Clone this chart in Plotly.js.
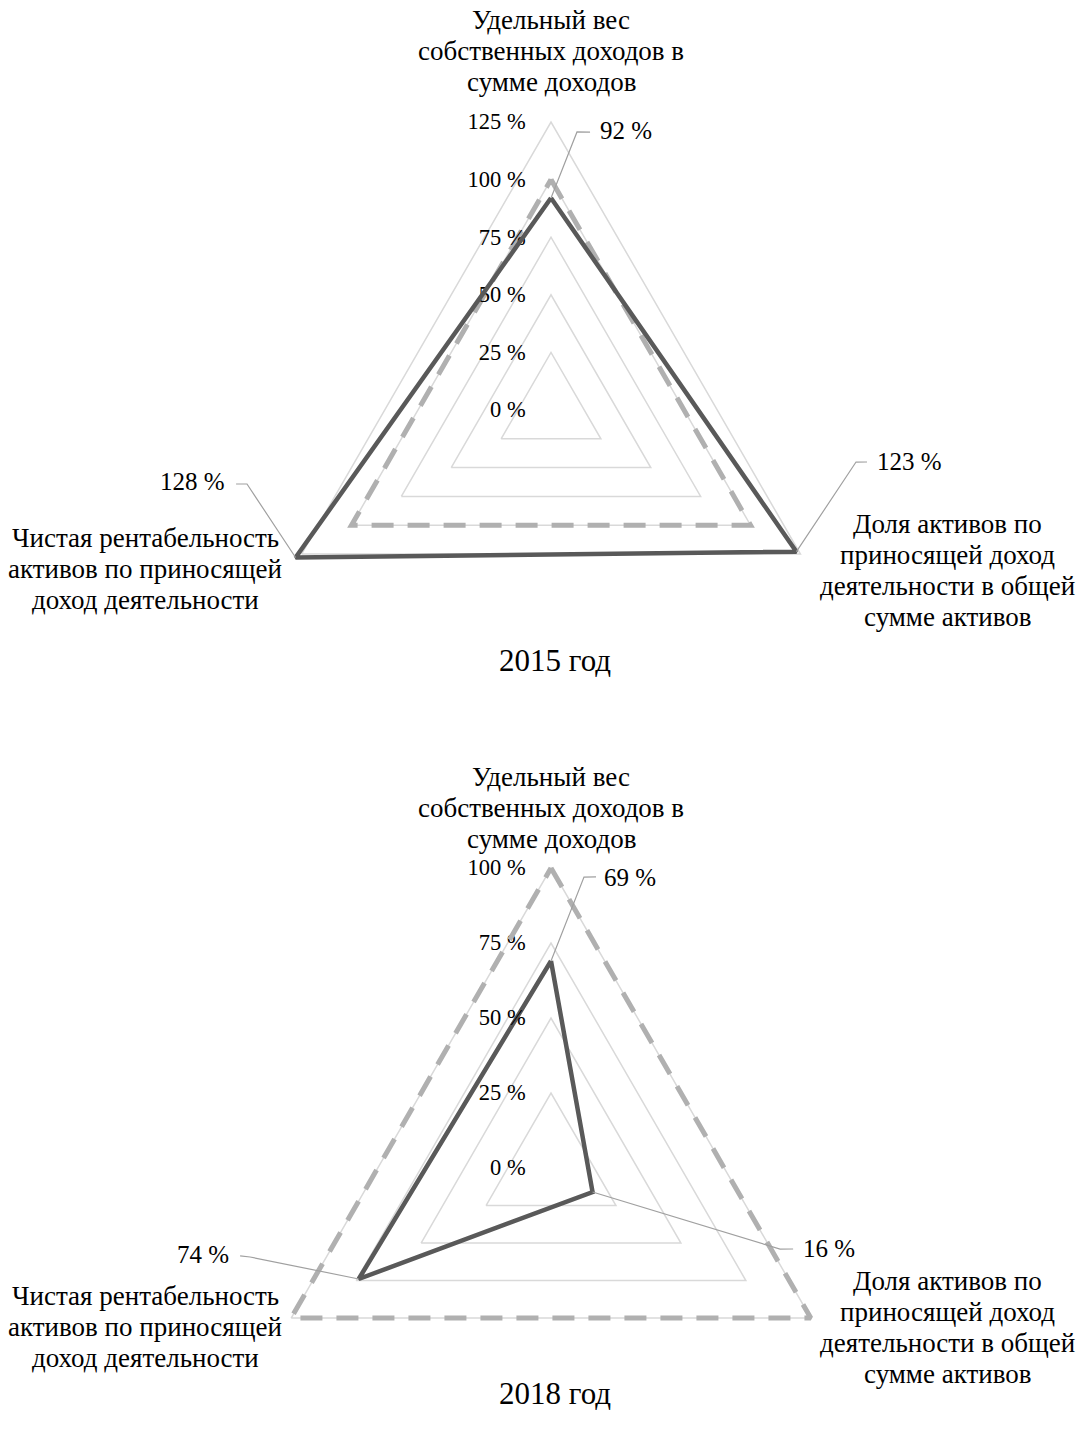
<!DOCTYPE html>
<html>
<head>
<meta charset="utf-8">
<script src="https://cdn.plot.ly/plotly-3.0.1.min.js"></script>
<style>
  html, body { margin: 0; padding: 0; background: #fff; overflow: hidden; }
  #wrap { width: 1077px; height: 1431px; overflow: hidden; position: relative; }
</style>
</head>
<body>
<div id="wrap"><div id="chart"></div></div>
<script>
// ---------- DATA ----------
const categories = [
  'Удельный вес собственных доходов в сумме доходов',
  'Доля активов по приносящей доход деятельности в общей сумме активов',
  'Чистая рентабельность активов по приносящей доход деятельности'
];
const categoryLines = [
  ['Удельный вес', 'собственных доходов в', 'сумме доходов'],
  ['Доля активов по', 'приносящей доход', 'деятельности в общей', 'сумме активов'],
  ['Чистая рентабельность', 'активов по приносящей', 'доход деятельности']
];
const values2015 = [92, 123, 128];
const norm2015 = [100, 100, 100];
const values2018 = [69, 16, 74];
const norm2018 = [100, 100, 100];
const titles = ['2015 год', '2018 год'];
const radialTicks2015 = [0, 25, 50, 75, 100, 125];
const radialTicks2018 = [0, 25, 50, 75, 100];

// ---------- STYLE / POSITIONS ----------
const FONT = 'Liberation Serif, Times New Roman, serif';
const H = 1540, W = 1077;
const catAngles = [90, -30, 210];  // category directions on the overlay subplot (degrees)
// leader-line geometry in polar coords [r, angle] on the overlay subplot
const leader2015 = [
  {elbow: [121.2, 84.66], end: [121.8, 82.0], text: [122.1, 79.97], pos: 'middle right'},
  {elbow: [134.3, -9.68], end: [139.0, -9.34], text: [143.4, -9.41], pos: 'middle right'},
  {elbow: [135.8, 193.68], end: [140.4, 193.22], text: [145.3, 192.75], pos: 'middle left'}
];
const leader2018 = [
  {elbow: [97.6, 83.53], end: [98.2, 81.21], text: [97.6, 79.57], pos: 'middle right'},
  {elbow: [81.0, -19.48], end: [85.1, -18.50], text: [88.4, -18.23], pos: 'middle right'},
  {elbow: [104.6, 196.47], end: [107.7, 195.80], text: [111.3, 195.38], pos: 'middle left'}
];
const NORM_LINE = {color: '#b0b0b0', width: 5, dash: '22px,14px'};
const VAL_LINE = {color: '#595959', width: 4.5};

function closed(arr) { return arr.concat([arr[0]]); }

// series that stay inside the outer grid go on the category polar; the rest go on the
// overlay polar (same centre and pixel scale, larger radial room, so nothing is clipped)
function seriesTraces(vals, norm, polarMain, polarOver, leaders, valsOnOverlay) {
  const tr = [];
  const onMain = (r, line) => ({type: 'scatterpolar', subplot: polarMain, mode: 'lines',
    r: closed(r), theta: closed(categories), line: line, hoverinfo: 'skip'});
  const onOver = (r, line) => ({type: 'scatterpolar', subplot: polarOver, mode: 'lines',
    r: closed(r), theta: closed(catAngles), line: line, hoverinfo: 'skip'});
  if (valsOnOverlay) {
    tr.push(onMain(norm, NORM_LINE));
    tr.push(onOver(vals, VAL_LINE));
  } else {
    tr.push(onMain(vals, VAL_LINE));
    tr.push(onOver(norm, NORM_LINE));
  }
  vals.forEach((v, i) => {
    const L = leaders[i];
    tr.push({
      type: 'scatterpolar', subplot: polarOver, mode: 'lines',
      r: [v, L.elbow[0], L.end[0]], theta: [catAngles[i], L.elbow[1], L.end[1]],
      line: {color: '#a0a0a0', width: 1.2},
      hoverinfo: 'skip'
    });
    tr.push({
      type: 'scatterpolar', subplot: polarOver, mode: 'text',
      r: [L.text[0]], theta: [L.text[1]],
      text: [v + ' %'], textposition: L.pos,
      textfont: {family: FONT, size: 25, color: '#000'},
      hoverinfo: 'skip', cliponaxis: false
    });
  });
  return tr;
}

const traces = [].concat(
  seriesTraces(values2015, norm2015, 'polar', 'polar2', leader2015, true),
  seriesTraces(values2018, norm2018, 'polar3', 'polar4', leader2018, false)
);

function mainPolar(cx, cy, rad, ticks) {
  return {
    domain: {x: [(cx - rad) / W, (cx + rad) / W], y: [1 - (cy + rad) / H, 1 - (cy - rad) / H]},
    bgcolor: 'rgba(0,0,0,0)',
    gridshape: 'linear',
    radialaxis: {
      range: [ticks[0], ticks[ticks.length - 1]],
      tickmode: 'array', tickvals: ticks, ticktext: ticks.map(t => t + ' %'),
      angle: 90, side: 'counterclockwise', tickangle: 90,
      showline: false, ticks: 'outside', ticklen: 17, tickcolor: 'rgba(0,0,0,0)',
      gridcolor: '#d9d9d9', gridwidth: 1.5,
      tickfont: {family: FONT, size: 22.5, color: '#000'}
    },
    angularaxis: {
      type: 'category', categoryarray: categories,
      rotation: 90, direction: 'clockwise',
      showgrid: false, showline: true, linecolor: '#d9d9d9', linewidth: 1.5,
      showticklabels: false, ticks: ''
    }
  };
}
function overPolar(cx, cy, rad, rmax, rOver) {
  const R = rad * rOver / rmax;
  return {
    domain: {x: [(cx - R) / W, (cx + R) / W], y: [1 - (cy + R) / H, 1 - (cy - R) / H]},
    bgcolor: 'rgba(0,0,0,0)',
    radialaxis: {range: [0, rOver], visible: false, showgrid: false},
    angularaxis: {type: 'linear', rotation: 0, direction: 'counterclockwise',
                  visible: false, showgrid: false, showline: false, showticklabels: false, ticks: ''}
  };
}

function ann(text, xpx, ypx, size) {
  return {text: text, xref: 'paper', yref: 'paper', x: xpx / W, y: 1 - ypx / H,
          xanchor: 'center', yanchor: 'middle', align: 'center', showarrow: false,
          font: {family: FONT, size: size, color: '#000'}};
}
function labelBlock(lines, xpx, y0, step, size) {
  return lines.map((t, k) => ann(t, xpx, y0 + k * step, size));
}

const CAT = 27, STEP = 31;
const layout = {
  width: W, height: H,
  margin: {l: 0, r: 0, t: 0, b: 0},
  paper_bgcolor: '#fff',
  showlegend: false,
  font: {family: FONT, color: '#000'},
  polar: mainPolar(551, 410, 288, radialTicks2015),
  polar2: overPolar(551, 410, 288, 125, 160),
  polar3: mainPolar(551, 1168, 300, radialTicks2018),
  polar4: overPolar(551, 1168, 300, 100, 120),
  annotations: [].concat(
    labelBlock(categoryLines[0], 551, 20, STEP, CAT),
    labelBlock(categoryLines[1], 947, 524, STEP, CAT),
    labelBlock(categoryLines[2], 145, 538, STEP, CAT),
    [ann(titles[0], 555, 660, 31)],
    labelBlock(categoryLines[0], 551, 777, STEP, CAT),
    labelBlock(categoryLines[1], 947, 1281, STEP, CAT),
    labelBlock(categoryLines[2], 145, 1296, STEP, CAT),
    [ann(titles[1], 555, 1393, 31)]
  )
};

Plotly.newPlot('chart', traces, layout, {displayModeBar: false, staticPlot: true});
</script>
</body>
</html>
